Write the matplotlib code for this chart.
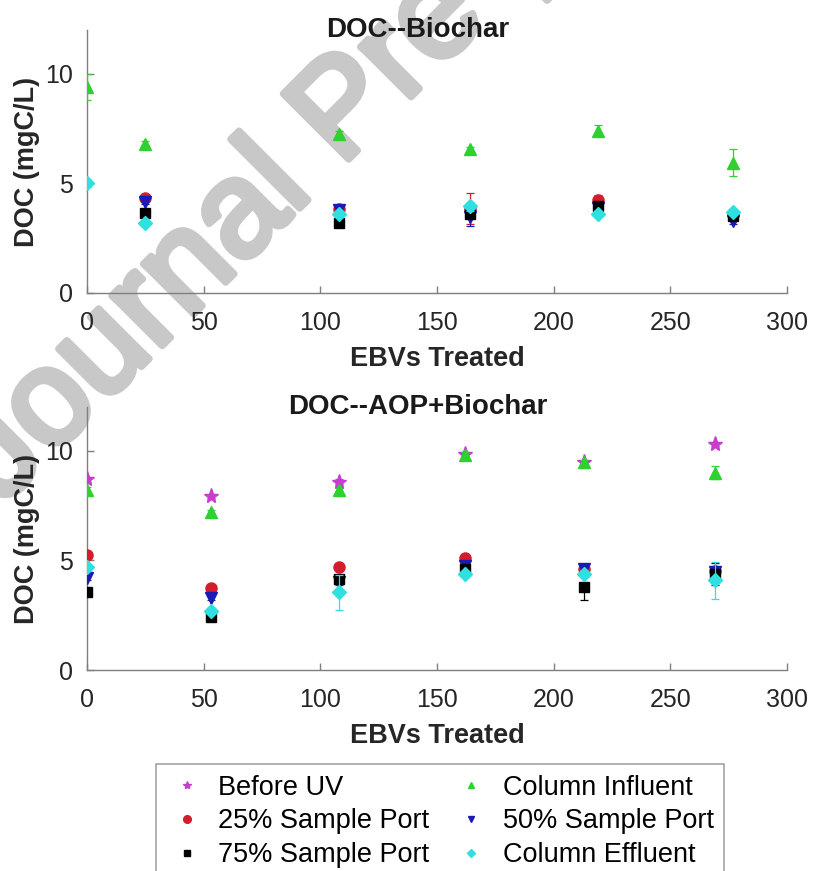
import numpy as np
import matplotlib
matplotlib.use("Agg")
import matplotlib.pyplot as plt
import matplotlib.patheffects as pe
from matplotlib.lines import Line2D

plt.rcParams['font.family'] = ['Liberation Sans', 'DejaVu Sans']

nan = np.nan

# series names (plotting order)
series_names = ["Before UV", "Column Influent", "25% Sample Port",
                "50% Sample Port", "75% Sample Port", "Column Effluent"]

# DOC--Biochar
ebv_bc = [0, 25, 108, 164, 219, 277]
bc_before = [nan, nan, nan, nan, nan, nan]
bc_before_err = [0, 0, 0, 0, 0, 0]
bc_infl = [9.4, 6.8, 7.25, 6.55, 7.4, 5.95]
bc_infl_err = [0.6, 0.15, 0.15, 0.1, 0.25, 0.6]
bc_p25 = [nan, 4.35, 3.85, 3.85, 4.25, 3.6]
bc_p25_err = [0, 0.1, 0.1, 0.7, 0.2, 0.1]
bc_p50 = [nan, 4.15, 3.8, 3.45, 3.9, 3.3]
bc_p50_err = [0, 0.1, 0.1, 0.4, 0.1, 0.15]
bc_p75 = [nan, 3.65, 3.2, 3.6, 3.95, 3.5]
bc_p75_err = [0, 0.1, 0.1, 0.15, 0.1, 0.1]
bc_effl = [5.0, 3.2, 3.6, 3.95, 3.6, 3.7]
bc_effl_err = [0.15, 0.15, 0.15, 0.2, 0.15, 0.15]

# DOC--AOP+Biochar
ebv_aop = [0, 53, 108, 162, 213, 269]
aop_before = [8.7, 7.95, 8.6, 9.85, 9.5, 10.3]
aop_before_err = [0.1, 0.1, 0.1, 0.1, 0.1, 0.1]
aop_infl = [8.2, 7.2, 8.2, 9.8, 9.5, 9.0]
aop_infl_err = [0.15, 0.1, 0.1, 0.15, 0.1, 0.3]
aop_p25 = [5.25, 3.75, 4.7, 5.1, 4.6, 4.5]
aop_p25_err = [0.1, 0.1, 0.1, 0.1, 0.1, 0.1]
aop_p50 = [4.2, 3.3, 4.0, 4.75, 4.6, 4.45]
aop_p50_err = [0.1, 0.1, 0.1, 0.1, 0.1, 0.2]
aop_p75 = [3.55, 2.4, 4.15, 4.6, 3.8, 4.4]
aop_p75_err = [0.1, 0.1, 0.1, 0.1, 0.6, 0.5]
aop_effl = [4.7, 2.7, 3.55, 4.4, 4.4, 4.1]
aop_effl_err = [0.1, 0.1, 0.8, 0.1, 0.1, 0.85]

# marker styles per series
markers = ['*', '^', 'o', 'v', 's', 'D']
colors = ['#c83cd2', '#2ed12e', '#d41c2c', '#1a1ab4', '#000000', '#30e0e0']
sizes = [11, 8, 8, 8, 7, 7]
leg_sizes = [6, 5, 5.5, 5, 4.5, 4.5]

W, H = 813, 871
fig = plt.figure(figsize=(W / 100, H / 100), dpi=100)

ax1 = fig.add_axes([87 / W, 1 - 293 / H, 700 / W, 263 / H])
ax2 = fig.add_axes([87 / W, 1 - 670 / H, 700 / W, 263 / H])

panels = [
    (ax1, "DOC--Biochar", ebv_bc,
     [bc_before, bc_infl, bc_p25, bc_p50, bc_p75, bc_effl],
     [bc_before_err, bc_infl_err, bc_p25_err, bc_p50_err, bc_p75_err, bc_effl_err]),
    (ax2, "DOC--AOP+Biochar", ebv_aop,
     [aop_before, aop_infl, aop_p25, aop_p50, aop_p75, aop_effl],
     [aop_before_err, aop_infl_err, aop_p25_err, aop_p50_err, aop_p75_err, aop_effl_err]),
]

for ax, title, xs, ys, errs in panels:
    ax.patch.set_visible(False)  # let the watermark show through
    for i, name in enumerate(series_names):
        ax.errorbar(xs, ys[i], yerr=errs[i], fmt=markers[i], color=colors[i],
                    ms=sizes[i], mec=colors[i], elinewidth=0.9, capsize=3,
                    capthick=0.9, label=name, zorder=3 + i)

    ax.set_xlim(0, 300)
    ax.set_ylim(0, 12)
    ax.set_xticks([0, 50, 100, 150, 200, 250, 300])
    ax.set_yticks([0, 5, 10])
    for side in ['top', 'right']:
        ax.spines[side].set_visible(False)
    for side in ['left', 'bottom']:
        ax.spines[side].set_color('#7f7f7f')
        ax.spines[side].set_linewidth(1.0)
    ax.tick_params(direction='in', length=5, width=1, color='#7f7f7f',
                   labelsize=18, labelcolor='#262626')
    ax.tick_params(axis='x', pad=13)
    ax.tick_params(axis='y', pad=10)
    ax.set_xlabel("EBVs Treated", fontsize=19.5, fontweight='bold', color='#262626', labelpad=8)
    ax.set_ylabel("DOC (mgC/L)", fontsize=19.5, fontweight='bold', color='#262626', labelpad=4)
    ax.text((418 - 87) / 700, 1.0, title, transform=ax.transAxes, ha='center', va='center',
            fontsize=20, fontweight='bold', color='#1a1a1a')

# legend: two columns filled column by column
leg_order = [0, 2, 4, 1, 3, 5]
leg_handles = [Line2D([], [], ls='none', marker=markers[i], color=colors[i],
                      ms=leg_sizes[i]) for i in leg_order]
leg_labels = [series_names[i] for i in leg_order]
leg = fig.legend(handles=leg_handles, labels=leg_labels, ncol=2, loc='upper left',
                 bbox_to_anchor=(156 / W, 1 - 764 / H), fontsize=19.5,
                 handlelength=1.5, handletextpad=0.4, columnspacing=0.8,
                 labelspacing=0.28, borderpad=0.4, borderaxespad=0,
                 frameon=True, fancybox=False, edgecolor='#8c8c8c')
leg.get_frame().set_linewidth(1.2)

# watermark, behind the axes contents
wm_color = '#c8c8c8'
fig.text(2 / W, 1 - 506 / H, "Journal Pre-proof", rotation=45, rotation_mode='anchor',
         ha='left', va='baseline', fontsize=97, color=wm_color, zorder=-1,
         path_effects=[pe.Stroke(linewidth=5, foreground=wm_color), pe.Normal()])

fig.savefig("out.png", dpi=100)
